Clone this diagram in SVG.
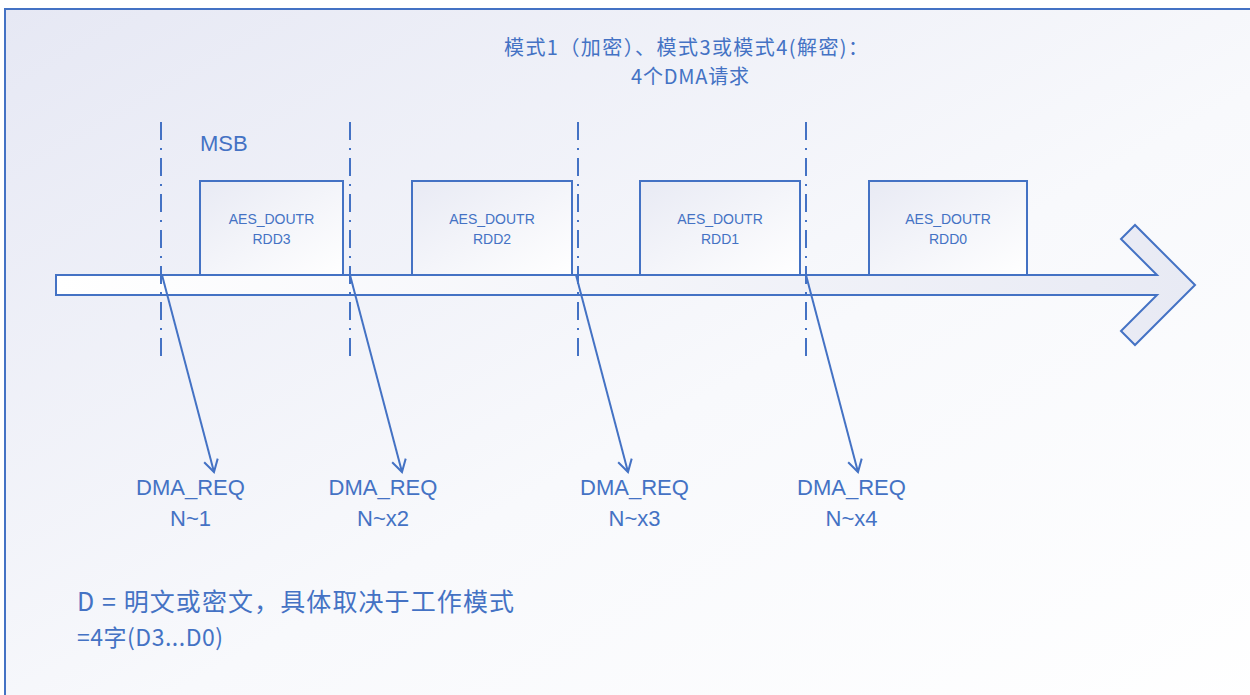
<svg xmlns="http://www.w3.org/2000/svg" width="1250" height="695" viewBox="0 0 1250 695">
  <style>
    .frame { fill: url(#bgGrad); stroke: #4472C4; stroke-width: 2; }
    .box { fill: url(#boxGrad); stroke: #4472C4; stroke-width: 2; }
    .bigarrow { fill: url(#arrowGrad); stroke: #4472C4; stroke-width: 2; stroke-linejoin: miter; }
    .guide { stroke: #4472C4; stroke-width: 2; stroke-dasharray: 18 8 2 8; fill: none; }
    .conn { stroke: #4472C4; stroke-width: 2; fill: none; marker-end: url(#openArrow); }
    .t { fill: #4472C4; font-family: "Liberation Sans", Arial, sans-serif; }
    .cjk { fill: #4472C4; font-family: "Noto Sans CJK SC", "Liberation Sans", sans-serif; }
    .boxlabel { font-size: 14px; text-anchor: middle; }
    .req { font-size: 22px; text-anchor: middle; }
  </style>
  <defs>
    <linearGradient id="bgGrad" x1="0" y1="0" x2="1" y2="1">
      <stop offset="0" stop-color="#E6E8F4"/>
      <stop offset="0.55" stop-color="#F8F9FC"/>
      <stop offset="1" stop-color="#FFFFFF"/>
    </linearGradient>
    <linearGradient id="boxGrad" x1="0" y1="0" x2="1" y2="1">
      <stop offset="0" stop-color="#E8EAF4"/>
      <stop offset="1" stop-color="#FFFFFF"/>
    </linearGradient>
    <linearGradient id="arrowGrad" x1="0" y1="0" x2="1" y2="0">
      <stop offset="0" stop-color="#FFFFFF"/>
      <stop offset="1" stop-color="#E8EAF4"/>
    </linearGradient>
    <marker id="openArrow" markerUnits="userSpaceOnUse" markerWidth="20" markerHeight="20" viewBox="-14 -10 16 20" refX="0" refY="0" orient="auto" overflow="visible">
      <path d="M-12,-7 L0,0 L-12,7" fill="none" stroke="#4472C4" stroke-width="2" stroke-linejoin="miter"/>
    </marker>
  </defs>

  <rect class="frame" x="5" y="9" width="1270" height="710"/>

  <g id="title">
    <text class="cjk" x="504" y="55" font-size="20" textLength="364" lengthAdjust="spacing">模式1（加密）、模式3或模式4(解密)：</text>
    <text class="cjk" x="631" y="84" font-size="20" textLength="118" lengthAdjust="spacing">4个DMA请求</text>
  </g>

  <g id="msb-label">
    <text class="t" x="200" y="151" font-size="22">MSB</text>
  </g>

  <g id="timeline-arrow">
    <polygon class="bigarrow" points="56,275 1157,275 1121,239 1135,225 1195,285 1135,345 1121,331 1157,295 56,295"/>
  </g>

  <g id="box-rdd3">
    <rect class="box" x="200" y="181" width="143" height="94"/>
    <text class="t boxlabel" x="271.5" y="224">AES_DOUTR</text>
    <text class="t boxlabel" x="271.5" y="244">RDD3</text>
  </g>
  <g id="box-rdd2">
    <rect class="box" x="412" y="181" width="160" height="94"/>
    <text class="t boxlabel" x="492" y="224">AES_DOUTR</text>
    <text class="t boxlabel" x="492" y="244">RDD2</text>
  </g>
  <g id="box-rdd1">
    <rect class="box" x="640" y="181" width="160" height="94"/>
    <text class="t boxlabel" x="720" y="224">AES_DOUTR</text>
    <text class="t boxlabel" x="720" y="244">RDD1</text>
  </g>
  <g id="box-rdd0">
    <rect class="box" x="869" y="181" width="158" height="94"/>
    <text class="t boxlabel" x="948" y="224">AES_DOUTR</text>
    <text class="t boxlabel" x="948" y="244">RDD0</text>
  </g>

  <g id="guides">
    <line class="guide" x1="161" y1="122" x2="161" y2="361"/>
    <line class="guide" x1="350" y1="122" x2="350" y2="361"/>
    <line class="guide" x1="578" y1="122" x2="578" y2="361"/>
    <line class="guide" x1="806" y1="122" x2="806" y2="361"/>
  </g>

  <g id="connectors">
    <line class="conn" x1="162" y1="275" x2="214" y2="472"/>
    <line class="conn" x1="350" y1="275" x2="402" y2="472"/>
    <line class="conn" x1="576" y1="275" x2="628" y2="472"/>
    <line class="conn" x1="806" y1="275" x2="858" y2="472"/>
  </g>

  <g id="req1">
    <text class="t req" x="190.5" y="495">DMA_REQ</text>
    <text class="t req" x="190.5" y="526">N~1</text>
  </g>
  <g id="req2">
    <text class="t req" x="383" y="495">DMA_REQ</text>
    <text class="t req" x="383" y="526">N~x2</text>
  </g>
  <g id="req3">
    <text class="t req" x="634.5" y="495">DMA_REQ</text>
    <text class="t req" x="634.5" y="526">N~x3</text>
  </g>
  <g id="req4">
    <text class="t req" x="851.5" y="495">DMA_REQ</text>
    <text class="t req" x="851.5" y="526">N~x4</text>
  </g>

  <g id="note">
    <text class="cjk" x="77" y="611" font-size="25" textLength="437" lengthAdjust="spacing">D = 明文或密文，具体取决于工作模式</text>
    <text class="cjk" x="77" y="646" font-size="23" textLength="146" lengthAdjust="spacing">=4字(D3...D0)</text>
  </g>
</svg>
